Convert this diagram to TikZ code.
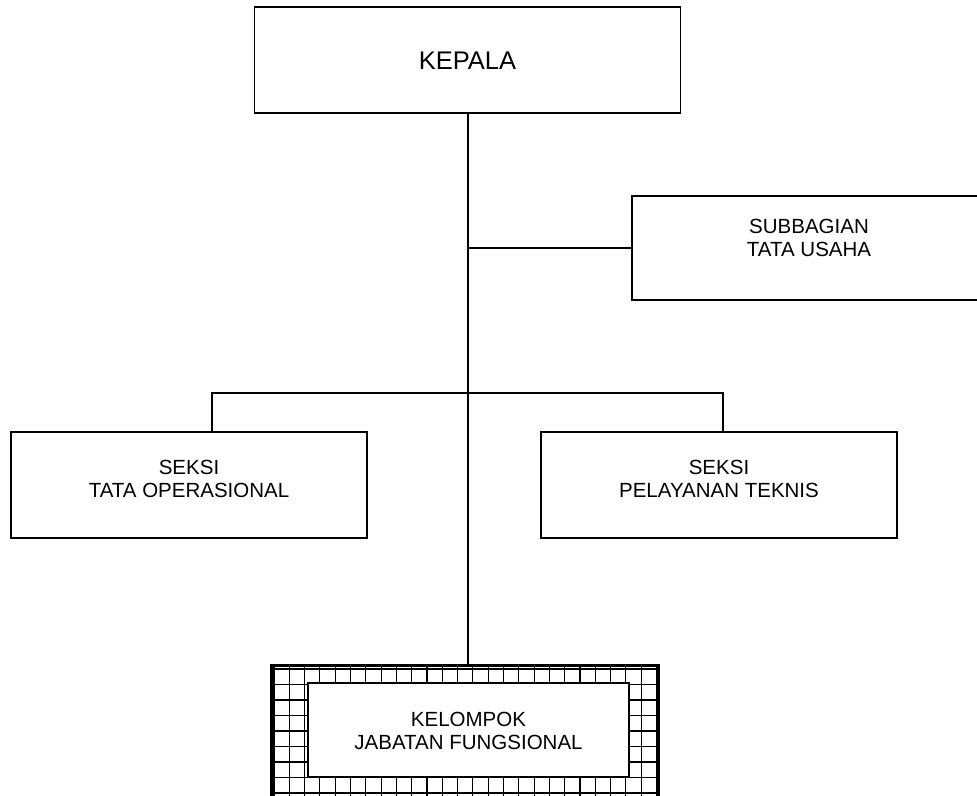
\documentclass[tikz,border=0pt]{standalone}
\usepackage{fontspec}
\setmainfont{Liberation Sans}
\begin{document}
\begin{tikzpicture}[x=1pt,y=-1pt,
  box/.style={draw=black,line width=1.6pt,fill=white,rectangle,inner sep=0pt},
  txt/.style={align=center,inner sep=0pt,font=\fontsize{20.5}{22.5}\selectfont},
  conn/.style={draw=black,line width=1.6pt},
  gridline/.style={draw=black,line width=1.1pt}]
\useasboundingbox (0,0) rectangle (977,795);
% boxes
\node[box,minimum width=426pt,minimum height=106pt] (kepala) at (467.5,60) {};
\node[txt,font=\fontsize{25.5}{28}\selectfont] (kepalat) at (467.5,61) {KEPALA};
\node[box,minimum width=354pt,minimum height=104pt] (sub) at (809,248) {};
\node[txt] (subt) at (809,238) {SUBBAGIAN\\TATA USAHA};
\node[box,minimum width=356pt,minimum height=106pt] (ops) at (189,485) {};
\node[txt] (opst) at (189,479) {SEKSI\\TATA OPERASIONAL};
\node[box,minimum width=356pt,minimum height=106pt] (tek) at (719,485) {};
\node[txt] (tekt) at (719,479) {SEKSI\\PELAYANAN TEKNIS};
% grid box
\node[box,minimum width=386pt,minimum height=140pt] (grid) at (465,736) {};
\foreach \k in {0,...,25}{\draw[gridline] (274+15.3*\k,666) -- (274+15.3*\k,806);}
\foreach \k in {0,...,8}{\draw[gridline] (272,669+15.5*\k) -- (658,669+15.5*\k);}
\draw[line width=1.6pt] (grid.north west) rectangle (grid.south east);
\node[box,minimum width=321pt,minimum height=94pt] (kel) at (468.5,730) {};
\node[txt] (kelt) at (468.5,731) {KELOMPOK\\JABATAN FUNGSIONAL};
% connectors
\coordinate (tx) at (468,0);
\coordinate (bl) at (212,393);
\coordinate (br) at (723,393);
\draw[conn] (tx |- kepala.south) -- (tx |- grid.north);
\draw[conn] (tx |- sub.west) -- (sub.west);
\draw[conn] (bl |- ops.north) -- (bl) -- (br) -- (br |- tek.north);
\end{tikzpicture}
\end{document}
